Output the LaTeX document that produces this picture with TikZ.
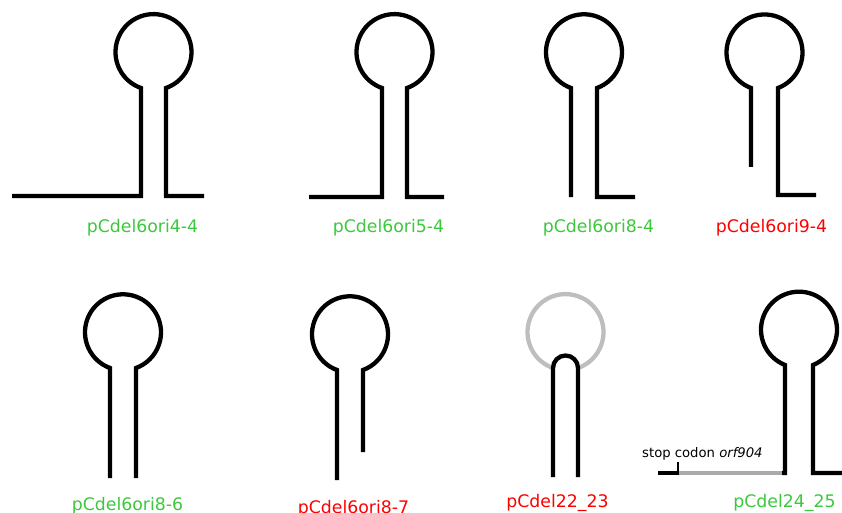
\documentclass[tikz,border=0pt]{standalone}
\usepackage{fontspec}
\setmainfont{DejaVu Sans}
\definecolor{lblgreen}{RGB}{60,200,60}
\definecolor{lblred}{RGB}{255,0,0}
\definecolor{loopgray}{RGB}{190,190,190}
\definecolor{bargray}{RGB}{170,170,170}
\begin{document}
\begin{tikzpicture}[x=1pt,y=-1pt,
  strand/.style={line width=4.3pt, draw=black},
  ghost/.style={line width=4.3pt, draw=loopgray},
  okname/.style={text=lblgreen, font=\fontsize{17.3}{20}\selectfont, anchor=base, inner sep=0pt},
  badname/.style={okname, text=lblred},
  smalltext/.style={anchor=base west, inner sep=0pt, font=\fontsize{13.2}{15}\selectfont}]
\useasboundingbox (0,0) rectangle (842,513);

% panel 1
\draw[strand] (12,196) -- (141,196) -- (141,88)
  arc[start angle=250.80, end angle=-70.80, radius=38pt] -- ++(0,108) -- (204,196);
% panel 2
\draw[strand] (309,197) -- (382,197) -- (382,88)
  arc[start angle=250.80, end angle=-70.80, radius=38pt] -- ++(0,109) -- (444,197);
% panel 3
\draw[strand] (571,197) -- (571,88)
  arc[start angle=250, end angle=-70, radius=38pt] -- ++(0,109) -- (635,197);
% panel 4
\draw[strand] (751,167) -- (751,88)
  arc[start angle=249.19, end angle=-69.19, radius=38pt] -- ++(0,107) -- (816,195);
% panel 5
\draw[strand] (110,478) -- (110,368)
  arc[start angle=250, end angle=-70, radius=38pt] -- ++(0,110);
% panel 6
\draw[strand] (337,480) -- (337,370)
  arc[start angle=250, end angle=-70, radius=38pt] -- ++(0,82);
% panel 7
\draw[ghost] (553,368) arc[start angle=250.80, end angle=-70.80, radius=38pt];
\draw[strand] (553,477) -- (553,368)
  arc[start angle=180, end angle=0, radius=12.5pt] -- ++(0,109);
% panel 8
\draw[strand] (782,473) -- (785,473) -- (785,365)
  arc[start angle=248.38, end angle=-68.38, radius=38pt] -- ++(0,108) -- (842,473);
\draw[strand] (658,473) -- (679,473);
\draw[line width=3.5pt, draw=bargray] (679,473) -- (782,473);
\draw[line width=1.2pt] (678,462) -- (678,473);

% labels
\node[okname] (n1) at (142.5,232) {pCdel6ori4-4};
\node[okname] (n2) at (388.5,232) {pCdel6ori5-4};
\node[okname] (n3) at (598.5,232) {pCdel6ori8-4};
\node[badname] (n4) at (771.5,232) {pCdel6ori9-4};
\node[okname] (n5) at (127.5,510) {pCdel6ori8-6};
\node[badname] (n6) at (353.5,513) {pCdel6ori8-7};
\node[badname] (n7) at (557.5,507) {pCdel22\_23};
\node[okname] (n8) at (784.5,507) {pCdel24\_25};
\node[smalltext] (stop) at (642,457) {stop codon \textit{orf904}};
\end{tikzpicture}
\end{document}
